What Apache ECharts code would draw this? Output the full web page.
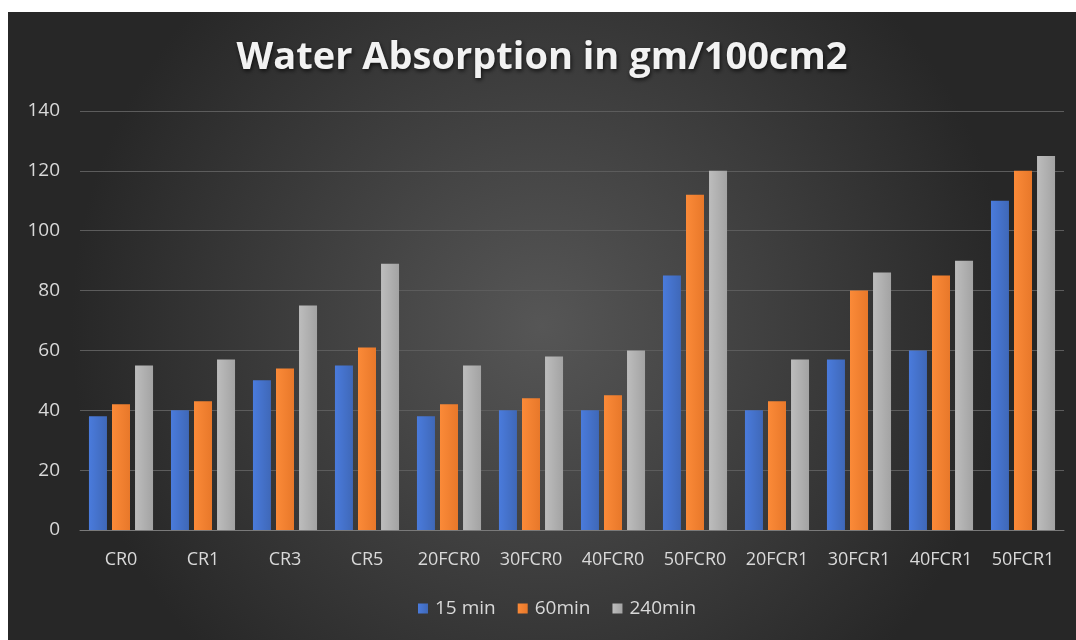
<!DOCTYPE html>
<html>
<head>
<meta charset="utf-8">
<script src="https://cdn.jsdelivr.net/npm/echarts@6/dist/echarts.min.js"></script>
<style>
  html, body { margin: 0; padding: 0; background: #fff; }
  #chart { position: absolute; left: 8px; top: 12px; width: 1068px; height: 628px; }
</style>
</head>
<body>
<div id="chart"></div>
<script>
var categories = ["CR0", "CR1", "CR3", "CR5", "20FCR0", "30FCR0", "40FCR0", "50FCR0", "20FCR1", "30FCR1", "40FCR1", "50FCR1"];
var min15 = [38, 40, 50, 55, 38, 40, 40, 85, 40, 57, 60, 110];
var min60 = [42, 43, 54, 61, 42, 44, 45, 112, 43, 80, 85, 120];
var min240 = [55, 57, 75, 89, 55, 58, 60, 120, 57, 86, 90, 125];

var chart = echarts.init(document.getElementById("chart"));

function barColor(top, bottom) {
  return new echarts.graphic.LinearGradient(0, 0, 1, 0, [
    { offset: 0, color: top },
    { offset: 1, color: bottom }
  ]);
}

function makeSeries(name, data, c1, c2) {
  return {
    name: name,
    type: "bar",
    data: data,
    barWidth: 18,
    barGap: "28%",
    itemStyle: {
      color: barColor(c1, c2),
      shadowColor: "rgba(0,0,0,0.6)",
      shadowBlur: 3,
      shadowOffsetX: 2,
      shadowOffsetY: -1
    }
  };
}

var option = {
  backgroundColor: new echarts.graphic.RadialGradient(0.5, 0.5, 0.75, [
    { offset: 0, color: "#565656" },
    { offset: 1, color: "#272727" }
  ]),
  textStyle: { fontFamily: "Open Sans" },
  title: {
    text: "Water Absorption in gm/100cm2",
    left: "center",
    top: 22,
    textStyle: {
      color: "#f2f2f2",
      fontSize: 38,
      fontWeight: "bold",
      fontFamily: "Open Sans",
      textShadowColor: "rgba(0,0,0,0.7)",
      textShadowBlur: 4,
      textShadowOffsetX: 1,
      textShadowOffsetY: 2
    }
  },
  legend: {
    bottom: 17,
    left: 405,
    itemWidth: 10,
    itemHeight: 10,
    itemGap: 22,
    icon: "rect",
    textStyle: { color: "#d9d9d9", fontSize: 19, padding: [0, 0, 0, 2] },
    data: ["15 min", "60min", "240min"]
  },
  grid: { left: 72, right: 12, top: 99, bottom: 110 },
  xAxis: {
    type: "category",
    data: categories,
    axisLine: { lineStyle: { color: "#7a7a7a", width: 1 } },
    axisTick: { show: false },
    axisLabel: { color: "#d9d9d9", fontSize: 18, margin: 21, interval: 0 }
  },
  yAxis: {
    type: "value",
    min: 0,
    max: 140,
    interval: 20,
    axisLine: { show: false },
    axisTick: { show: false },
    axisLabel: { color: "#d9d9d9", fontSize: 19, margin: 20 },
    splitLine: { lineStyle: { color: "#5c5c5c", width: 1 } }
  },
  series: [
    makeSeries("15 min", min15, "#4a7bdc", "#3f68b8"),
    makeSeries("60min", min60, "#fb8a38", "#e8782a"),
    makeSeries("240min", min240, "#bdbdbd", "#a3a3a3")
  ]
};

chart.setOption(option);
</script>
</body>
</html>
